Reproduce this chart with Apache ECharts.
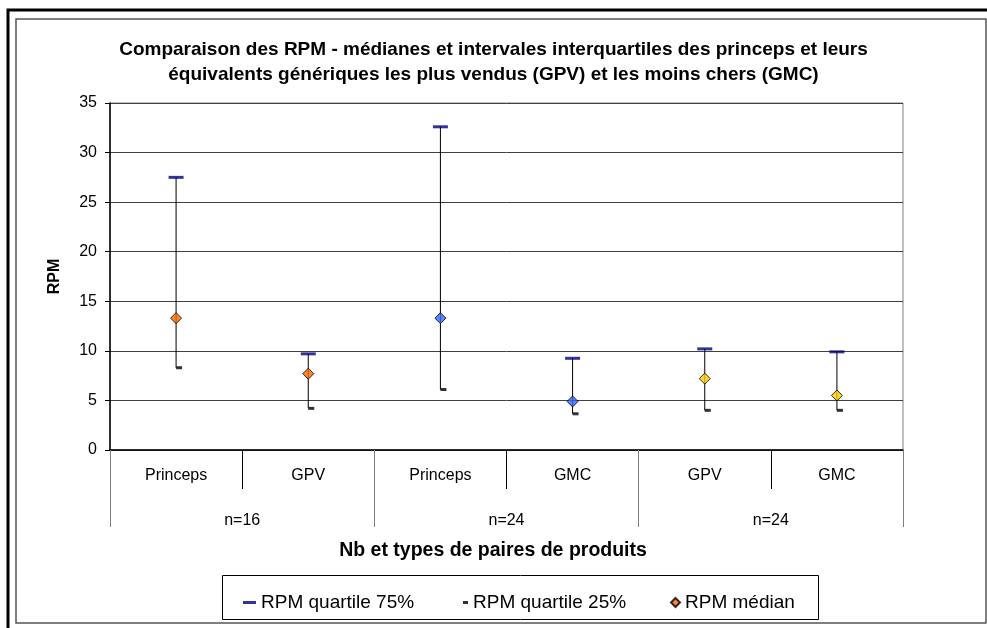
<!DOCTYPE html>
<html>
<head>
<meta charset="utf-8">
<script src="https://cdn.jsdelivr.net/npm/echarts@6/dist/echarts.min.js"></script>
<style>
  html, body { margin: 0; padding: 0; background: #fff; }
  #chart { width: 987px; height: 628px; }
</style>
</head>
<body>
<div id="chart"></div>
<script>
// categories (two levels)
var categories = ['Princeps', 'GPV', 'Princeps', 'GMC', 'GPV', 'GMC'];
var groups = ['n=16', 'n=24', 'n=24'];
// RPM values
var q75 = [27.5, 9.7, 32.6, 9.25, 10.2, 9.9];
var median = [13.3, 7.7, 13.3, 4.9, 7.2, 5.5];
var q25 = [8.3, 4.2, 6.1, 3.65, 4.0, 4.0];
var yTicks = [0, 5, 10, 15, 20, 25, 30, 35];
var medianColors = ['#FF6600', '#FF6600', '#3366FF', '#3366FF', '#FFCC00', '#FFCC00'];

var font = "'Liberation Sans', Arial, sans-serif";

var chart = echarts.init(document.getElementById('chart'));

var rangeData = categories.map(function (c, i) { return [i, q25[i], q75[i]]; });

chart.setOption({
  animation: false,
  textStyle: { fontFamily: font, color: '#000' },
  title: {
    text: 'Comparaison des RPM - médianes et intervales interquartiles des princeps et leurs\néquivalents génériques les plus vendus (GPV) et les moins chers (GMC)',
    left: 'center',
    top: 32,
    textStyle: { fontFamily: font, fontSize: 19, fontWeight: 'bold', lineHeight: 25, color: '#000' }
  },
  grid: {
    left: 110, right: 84, top: 103, bottom: 178,
    show: true, borderColor: '#808080', borderWidth: 1
  },
  legend: [
    { data: ['RPM quartile 75%'], left: 238, top: 588, itemWidth: 13, itemHeight: 3, itemGap: 5,
      textStyle: { fontFamily: font, fontSize: 19, color: '#000' } },
    { data: ['RPM quartile 25%'], left: 458, top: 588, itemWidth: 5, itemHeight: 3,
      textStyle: { fontFamily: font, fontSize: 19, color: '#000' } },
    { data: ['RPM médian'], left: 665, top: 588, itemWidth: 9, itemHeight: 9,
      textStyle: { fontFamily: font, fontSize: 19, color: '#000' } }
  ],
  xAxis: [
    {
      type: 'category',
      data: categories,
      boundaryGap: true,
      axisLine: { show: true, lineStyle: { color: '#000', width: 1.5 } },
      axisTick: { show: true, length: 39, interval: 0, lineStyle: { color: '#000', width: 1 } },
      axisLabel: { interval: 0, margin: 18, fontSize: 16, color: '#000', fontFamily: font }
    },
    {
      type: 'category',
      position: 'bottom',
      data: ['0', '1', '2'],
      boundaryGap: true,
      axisLine: { show: false },
      axisTick: { show: true, length: 77, interval: 0, lineStyle: { color: '#808080', width: 1 } },
      axisLabel: { interval: 0, margin: 63, fontSize: 16, color: '#000', fontFamily: font,
        formatter: function (v, i) { return groups[i]; } },
      name: 'Nb et types de paires de produits',
      nameLocation: 'middle',
      nameGap: 91,
      nameTextStyle: { fontFamily: font, fontSize: 19.5, fontWeight: 'bold', color: '#000',
        padding: [0, 27, 0, 0] }
    }
  ],
  yAxis: {
    type: 'value',
    min: yTicks[0],
    max: yTicks[yTicks.length - 1],
    interval: 5,
    name: 'RPM',
    nameLocation: 'middle',
    nameGap: 47,
    nameTextStyle: { fontFamily: font, fontSize: 16, fontWeight: 'bold', color: '#000' },
    axisLine: { show: true, lineStyle: { color: '#000', width: 1.5 } },
    axisTick: { show: true, length: 5, lineStyle: { color: '#000' } },
    axisLabel: { margin: 13, fontSize: 16, color: '#000', fontFamily: font },
    splitLine: { lineStyle: { color: '#404040', width: 1 } }
  },
  graphic: [
    { type: 'rect', shape: { x: 8, y: 10, width: 1000, height: 700 },
      style: { fill: 'none', stroke: '#000', lineWidth: 3 }, silent: true },
    { type: 'rect', shape: { x: 16, y: 19, width: 970, height: 604 },
      style: { fill: 'none', stroke: '#555', lineWidth: 1.5 }, silent: true },
    { type: 'rect', shape: { x: 222.5, y: 575.5, width: 596, height: 44 },
      style: { fill: 'none', stroke: '#000', lineWidth: 1 }, silent: true }
  ],
  series: [
    {
      type: 'custom',
      name: 'range',
      z: 1,
      silent: true,
      data: rangeData,
      renderItem: function (params, api) {
        var lo = api.coord([api.value(0), api.value(1)]);
        var hi = api.coord([api.value(0), api.value(2)]);
        return {
          type: 'line',
          shape: { x1: lo[0], y1: lo[1], x2: hi[0], y2: hi[1] },
          style: { stroke: '#000', lineWidth: 1 }
        };
      }
    },
    {
      type: 'scatter',
      name: 'RPM quartile 75%',
      z: 3,
      symbol: 'rect',
      symbolSize: [15, 3],
      itemStyle: { color: '#000080' },
      data: q75.map(function (v, i) { return [i, v]; })
    },
    {
      type: 'scatter',
      name: 'RPM quartile 25%',
      z: 3,
      symbol: 'rect',
      symbolSize: [6, 3],
      symbolOffset: [3, 0],
      itemStyle: { color: '#000' },
      data: q25.map(function (v, i) { return [i, v]; })
    },
    {
      type: 'scatter',
      name: 'RPM médian',
      z: 4,
      symbol: 'diamond',
      symbolSize: 11,
      itemStyle: { color: '#FF6600', borderColor: '#000', borderWidth: 1 },
      data: median.map(function (v, i) {
        return { value: [i, v], itemStyle: { color: medianColors[i] } };
      })
    }
  ]
});
</script>
</body>
</html>
